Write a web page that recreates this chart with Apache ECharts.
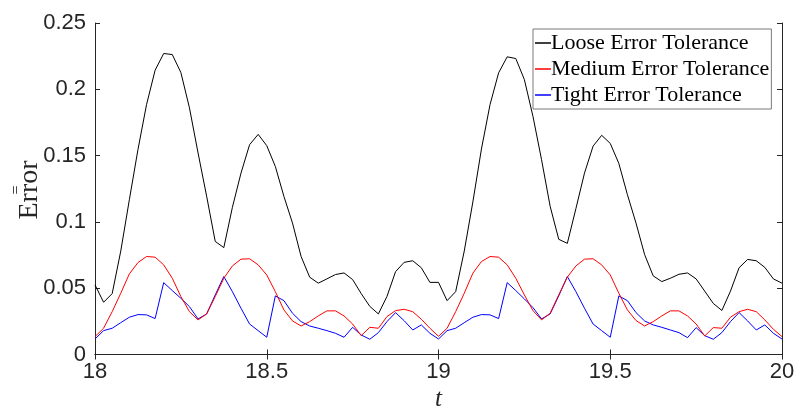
<!DOCTYPE html>
<html>
<head>
<meta charset="utf-8">
<script src="https://cdn.jsdelivr.net/npm/echarts@6/dist/echarts.min.js"></script>
<style>html,body{margin:0;padding:0;background:#fff}#c{width:796px;height:407px}</style>
</head>
<body>
<div id="c"></div>
<script>
var times = [18.000,18.025,18.050,18.075,18.100,18.125,18.150,18.175,18.200,18.225,
  18.250,18.275,18.300,18.325,18.350,18.375,18.400,18.425,18.450,18.475,
  18.500,18.525,18.550,18.575,18.600,18.625,18.650,18.675,18.700,18.725,
  18.750,18.775,18.800,18.825,18.850,18.875,18.900,18.925,18.950,18.975,
  19.000,19.025,19.050,19.075,19.100,19.125,19.150,19.175,19.200,19.225,
  19.250,19.275,19.300,19.325,19.350,19.375,19.400,19.425,19.450,19.475,
  19.500,19.525,19.550,19.575,19.600,19.625,19.650,19.675,19.700,19.725,
  19.750,19.775,19.800,19.825,19.850,19.875,19.900,19.925,19.950,19.975,20.000];

var looseErr = [0.0525,0.0394,0.0459,0.078,0.1167,0.1545,0.1884,0.2144,0.2270,0.2262,
  0.2126,0.186,0.152,0.1194,0.0853,0.0806,0.111,0.1368,0.1582,0.1660,
  0.1575,0.1418,0.1192,0.0991,0.0739,0.0583,0.0538,0.0570,0.0603,0.0615,
  0.0565,0.0459,0.0363,0.0306,0.0438,0.0625,0.0695,0.0707,0.0654,0.0544,
  0.0544,0.0406,0.0474,0.078,0.115,0.155,0.1884,0.2124,0.2245,0.2232,
  0.2073,0.1796,0.1469,0.1118,0.0869,0.0838,0.110,0.1368,0.1571,0.1653,
  0.1592,0.1441,0.1205,0.0991,0.0754,0.0593,0.0550,0.0575,0.0605,0.0615,
  0.0570,0.0478,0.0385,0.0332,0.0478,0.0654,0.0717,0.0707,0.0657,0.0570,0.0538];

var mediumErr = [0.0135,0.0198,0.0323,0.0462,0.0608,0.0693,0.0739,0.0734,0.0676,0.0575,
  0.0437,0.0323,0.0261,0.0306,0.0437,0.0575,0.0668,0.0719,0.0722,0.0676,
  0.0600,0.0474,0.0336,0.0253,0.0215,0.0248,0.0291,0.0329,0.0329,0.0291,
  0.0230,0.0142,0.0205,0.0198,0.0286,0.0331,0.0341,0.0323,0.0266,0.0198,
  0.0137,0.0198,0.0323,0.0462,0.0613,0.0701,0.0739,0.0734,0.0676,0.0575,
  0.0449,0.0331,0.0261,0.0311,0.0449,0.0583,0.0668,0.0719,0.0722,0.0676,
  0.0600,0.0462,0.0336,0.0256,0.0215,0.0248,0.0291,0.0329,0.0329,0.0291,
  0.0230,0.0140,0.0203,0.0198,0.0281,0.0323,0.0341,0.0323,0.0261,0.0190,0.0135];

var tightErr = [0.0117,0.0180,0.0198,0.0240,0.0281,0.0301,0.0299,0.0271,0.0542,0.0482,
  0.0424,0.0361,0.0268,0.0306,0.0449,0.0588,0.0474,0.0349,0.0230,0.0180,
  0.0130,0.0442,0.0406,0.0311,0.0248,0.0215,0.0198,0.0180,0.0160,0.0130,
  0.0205,0.0147,0.0115,0.0165,0.0248,0.0316,0.0255,0.0185,0.0223,0.0160,
  0.0117,0.0180,0.0198,0.0240,0.0281,0.0301,0.0299,0.0271,0.0542,0.0482,
  0.0419,0.0354,0.0268,0.0306,0.0442,0.0588,0.0474,0.0349,0.0230,0.0180,
  0.0130,0.0442,0.0406,0.0316,0.0253,0.0223,0.0205,0.0185,0.0165,0.0127,
  0.0203,0.0142,0.0115,0.0165,0.0248,0.0316,0.0253,0.0185,0.0223,0.0160,0.0117];

var seriesNames = ['Loose Error Tolerance','Medium Error Tolerance','Tight Error Tolerance'];
var seriesColors = ['#000000','#ff0000','#0000ff'];
var seriesValues = [looseErr, mediumErr, tightErr];

function pairs(vals){ return times.map(function(t,i){ return [t, vals[i]]; }); }

var axisCol = '#262626';
var chart = echarts.init(document.getElementById('c'), null, {renderer:'canvas'});
var labelFont = {fontFamily:'Liberation Sans, Arial, sans-serif', fontSize:22, color:'#262626'};

var option = {
  animation:false,
  backgroundColor:'#ffffff',
  grid:{left:95, right:14, top:23, bottom:52.5, containLabel:false, outerBoundsMode:'none'},
  legend:{
    orient:'vertical', left:533, top:29, itemGap:4,
    padding:[3,2,3,2],
    borderColor:'#7a7a7a', borderWidth:1, backgroundColor:'#ffffff',
    itemWidth:16, itemHeight:1.5, itemSymbolKeepAspect:false,
    icon:'rect',
    textStyle:{fontFamily:'Liberation Serif, Times New Roman, serif', fontSize:22, color:'#000', padding:[0,0,0,-5]},
    data:seriesNames
  },
  xAxis:[{
    type:'value', min:18, max:20, interval:0.5, position:'bottom',
    axisLine:{lineStyle:{color:axisCol, width:1}},
    axisTick:{inside:true, length:5, lineStyle:{color:axisCol}},
    axisLabel:Object.assign({margin:6}, labelFont),
    splitLine:{show:false},
    name:'t', nameLocation:'middle', nameGap:27,
    nameTextStyle:{fontFamily:'Liberation Serif, serif', fontStyle:'italic', fontSize:25, color:'#262626'}
  },{
    type:'value', min:18, max:20, interval:0.5, position:'top',
    axisLine:{lineStyle:{color:axisCol, width:1}},
    axisTick:{inside:true, length:5, lineStyle:{color:axisCol}},
    axisLabel:{show:false}, splitLine:{show:false}
  }],
  yAxis:[{
    type:'value', min:0, max:0.25, interval:0.05, position:'left',
    axisLine:{show:true, lineStyle:{color:axisCol, width:1}},
    axisTick:{show:true, inside:true, length:5, lineStyle:{color:axisCol}},
    axisLabel:Object.assign({margin:9}, labelFont),
    splitLine:{show:false}
  },{
    type:'value', min:0, max:0.25, interval:0.05, position:'right',
    axisLine:{show:true, lineStyle:{color:axisCol, width:1}},
    axisTick:{show:true, inside:true, length:5, lineStyle:{color:axisCol}},
    axisLabel:{show:false}, splitLine:{show:false}
  }],
  series: seriesNames.map(function(n,k){
    return {
      name:n, type:'line', xAxisIndex:0, yAxisIndex:0,
      data:pairs(seriesValues[k]),
      showSymbol:false, symbol:'none',
      lineStyle:{color:seriesColors[k], width:1},
      itemStyle:{color:seriesColors[k]},
      z: 3 - k
    };
  }),
  graphic:[{
    type:'group', x:30, y:190, rotation:Math.PI/2,
    children:[
      {type:'text', x:0, y:0, style:{text:'Error', fontFamily:'Liberation Serif, Times New Roman, serif', fontSize:28, fill:'#262626', align:'center', verticalAlign:'middle'}},
      {type:'text', x:0, y:-13, style:{text:'=', fontFamily:'Liberation Serif, serif', fontSize:16, fill:'#262626', align:'center', verticalAlign:'middle'}}
    ]
  }]
};
chart.setOption(option);
</script>
</body>
</html>
